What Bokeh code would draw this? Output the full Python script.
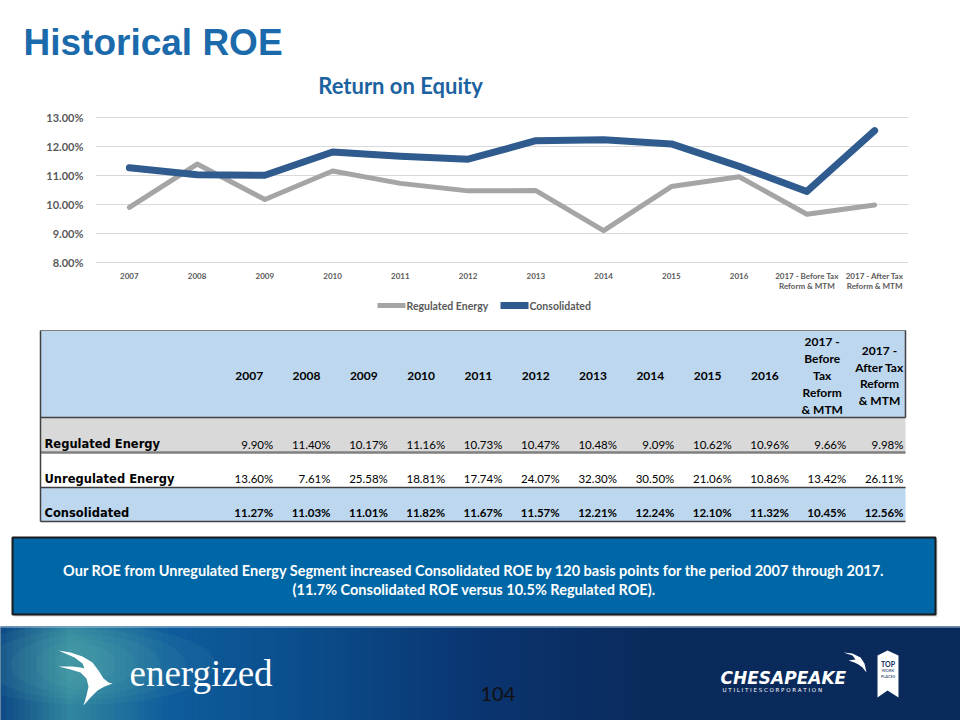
from bokeh.plotting import figure
from bokeh.models import (Range1d, FactorRange, FixedTicker, NumeralTickFormatter, ColumnDataSource)
from bokeh.layouts import column
from bokeh.core.properties import value
from bokeh.embed import file_html
from bokeh.resources import INLINE

# ---------------- data ----------------
categories = ["2007", "2008", "2009", "2010", "2011", "2012", "2013", "2014", "2015", "2016",
              "2017 - Before Tax\nReform & MTM", "2017 - After Tax\nReform & MTM"]
table_headers = ["2007", "2008", "2009", "2010", "2011", "2012", "2013", "2014", "2015", "2016",
                 "2017 -\nBefore\nTax\nReform\n& MTM", "2017 -\nAfter Tax\nReform\n& MTM"]
regulated = [9.90, 11.40, 10.17, 11.16, 10.73, 10.47, 10.48, 9.09, 10.62, 10.96, 9.66, 9.98]
unregulated = [13.60, 7.61, 25.58, 18.81, 17.74, 24.07, 32.30, 30.50, 21.06, 10.86, 13.42, 26.11]
consolidated = [11.27, 11.03, 11.01, 11.82, 11.67, 11.57, 12.21, 12.24, 12.10, 11.32, 10.45, 12.56]
row_names = ["Regulated Energy", "Unregulated Energy", "Consolidated"]
series_names = ["Regulated Energy", "Consolidated"]
y_ticks = [0.08, 0.09, 0.10, 0.11, 0.12, 0.13]

TITLE = "Historical ROE"
CHART_TITLE = "Return on Equity"
NOTE = ["Our ROE from Unregulated Energy Segment increased Consolidated ROE by 120 basis points for the period 2007 through 2017.",
        "(11.7% Consolidated ROE versus 10.5% Regulated ROE)."]
PAGE = "104"

W = 960
REG_COLOR = "#A5A5A5"
CONS_COLOR = "#2F5B8E"


def canvas(top, height, bg="white"):
    p = figure(width=W, height=height, x_range=Range1d(0, W), y_range=Range1d(top + height, top),
               x_axis_location=None, y_axis_location=None, output_backend="svg",
               toolbar_location=None, min_border=0, frame_align=False)
    p.grid.visible = False
    p.outline_line_color = None
    p.background_fill_color = bg
    p.border_fill_color = bg
    return p


# ---------------- header ----------------
pa = canvas(0, 108)
pa.text(x=[23], y=[42], text=[TITLE], text_font=value("Liberation Sans"), text_font_style="bold",
        text_font_size="37px", text_color="#1B6AAB", text_baseline="middle")
pa.text(x=[400], y=[85], text=[CHART_TITLE], text_font=value("Lato"), text_font_style="bold",
        text_font_size="22px", text_color="#1D62A0", text_align="center", text_baseline="middle")

# ---------------- chart ----------------
pb = figure(width=W, height=188, x_range=FactorRange(*categories), y_range=Range1d(0.0795, 0.1305),
            output_backend="svg", toolbar_location=None, frame_align=False,
            min_border_left=95, min_border_right=52, min_border_top=8, min_border_bottom=33)
pb.outline_line_color = None
pb.background_fill_color = "white"
pb.border_fill_color = "white"
pb.xgrid.grid_line_color = None
pb.ygrid.grid_line_color = "#D9D9D9"
pb.ygrid.ticker = FixedTicker(ticks=y_ticks)
pb.yaxis.ticker = FixedTicker(ticks=y_ticks)
pb.yaxis.formatter = NumeralTickFormatter(format="0.00%")
for ax in (pb.xaxis[0], pb.yaxis[0]):
    ax.axis_line_color = None
    ax.major_tick_line_color = None
    ax.minor_tick_line_color = None
    ax.major_label_text_color = "#595959"
    ax.major_label_text_font = "Lato"
    ax.major_label_text_font_style = "bold"
pb.yaxis.major_label_text_font_size = "11px"
pb.yaxis.major_label_standoff = 6
pb.xaxis.major_label_text_font_size = "8px"
pb.xaxis.major_label_standoff = 1
pb.xaxis.major_label_text_line_height = 1.0

src = ColumnDataSource(dict(x=categories, reg=[v / 100 for v in regulated],
                            cons=[v / 100 for v in consolidated]))
pb.line("x", "reg", source=src, line_color=REG_COLOR, line_width=5,
        line_join="round", line_cap="round")
pb.line("x", "cons", source=src, line_color=CONS_COLOR, line_width=7,
        line_join="round", line_cap="round")

# ---------------- legend strip ----------------
pl = canvas(296, 26)
pl.segment(x0=[377, 500], x1=[405, 528], y0=[305, 305], y1=[305, 305],
           line_color=[REG_COLOR, CONS_COLOR], line_width=[5, 7])
pl.text(x=[406, 529], y=[305, 305], text=series_names, text_font=value("Lato"),
        text_font_style="bold", text_font_size="10.5px", text_color="#595959",
        text_baseline="middle")

# ---------------- table ----------------
pc = canvas(322, 304)
T_L, T_R = 40, 905
T_TOP, H_BOT, R1_BOT, R2_BOT, T_BOT = 330, 417, 452, 487, 521
pc.quad(left=[T_L, T_L, T_L, T_L], right=[T_R] * 4,
        top=[T_TOP, H_BOT, R1_BOT, R2_BOT], bottom=[H_BOT, R1_BOT, R2_BOT, T_BOT],
        fill_color=["#BDD7EE", "#D9D9D9", "#FFFFFF", "#BDD7EE"], line_color=None)
pc.segment(x0=[T_L, T_L, T_L, T_L, T_L], x1=[T_R] * 5,
           y0=[T_TOP, H_BOT, R1_BOT, R2_BOT, T_BOT], y1=[T_TOP, H_BOT, R1_BOT, R2_BOT, T_BOT],
           line_color=["#7F7F7F", "#404040", "#7F7F7F", "#404040", "#404040"],
           line_width=[1, 1.5, 2.5, 1.5, 1.5])
pc.segment(x0=[T_L, T_R], x1=[T_L, T_R], y0=[T_TOP, T_TOP], y1=[T_BOT, H_BOT],
           line_color="#404040", line_width=1.5)

col_right = [272.7 + 57.3 * i for i in range(len(table_headers))]
col_center = [c - 24 for c in col_right]
pc.text(x=col_center, y=[375] * len(table_headers), text=table_headers,
        text_font=value("Lato"), text_font_style="bold", text_font_size="12px",
        text_color="#000000", text_align="center", text_baseline="middle", text_line_height=1.12)

row_mid = [443.5, 478, 512]
pc.text(x=[44] * 3, y=row_mid, text=row_names, text_font=value("DejaVu Sans"),
        text_font_style="bold", text_font_size="11.5px", text_color="#000000",
        text_baseline="middle")
for vals, ym, style in ((regulated, row_mid[0], "normal"), (unregulated, row_mid[1], "normal"),
                        (consolidated, row_mid[2], "bold")):
    pc.text(x=col_right, y=[ym] * len(vals), text=[f"{v:.2f}%" for v in vals],
            text_font=value("Lato"), text_font_style=style, text_font_size="11.5px",
            text_color="#000000", text_align="right", text_baseline="middle")

# callout box
pc.quad(left=[14], right=[937], top=[539], bottom=[616], fill_color="#7F7F7F", fill_alpha=0.35,
        line_color=None)
pc.quad(left=[12], right=[935], top=[537], bottom=[614], fill_color="#0067A6",
        line_color="#1A1A1A", line_width=2)
pc.text(x=[473.5, 473.5], y=[570, 589], text=NOTE, text_font=value("Lato"), text_font_style="bold",
        text_font_size="14.5px", text_color="#FFFFFF", text_align="center", text_baseline="middle")

# ---------------- footer ----------------
pd_ = canvas(626, 94, bg="#0A2A5B")
stops = [(0, (14, 74, 134)), (70, (50, 135, 160)), (170, (15, 92, 156)), (300, (11, 78, 140)),
         (480, (10, 53, 112)), (640, (10, 43, 93)), (960, (10, 42, 91))]
xs0, xs1, cols = [], [], []
step = 6
for x in range(0, 960, step):
    for (a, ca), (b, cb) in zip(stops[:-1], stops[1:]):
        if a <= x < b:
            t = (x + step / 2 - a) / (b - a)
            c = tuple(int(ca[k] + (cb[k] - ca[k]) * t) for k in range(3))
            break
    xs0.append(x)
    xs1.append(x + step + 0.5)
    cols.append("#%02x%02x%02x" % c)
pd_.quad(left=xs0, right=xs1, top=[626] * len(xs0), bottom=[720] * len(xs0),
         fill_color=cols, line_color=None)
pd_.ellipse(x=[85] * 5, y=[664] * 5, width=[260, 200, 150, 100, 60], height=[80, 70, 60, 50, 40],
            fill_color="#6CC3BE", fill_alpha=0.07, line_color=None)
pd_.segment(x0=[0], x1=[960], y0=[626.5], y1=[626.5], line_color="#9DC3E6", line_width=1)

# bird logo
bird_x = [58, 70, 82, 92, 98, 103, 108, 112, 104, 97, 90, 83, 86, 88, 86, 80, 70, 58, 72, 80, 84, 82, 74]
bird_y = [650, 652, 656, 662, 670, 678, 682, 683, 686, 690, 697, 705, 695, 686, 678, 672, 669, 666, 666, 667, 668, 663, 657]
pd_.patch(x=bird_x, y=bird_y, fill_color="white", line_color=None)
pd_.text(x=[129], y=[673], text=["energized"], text_font=value("Liberation Serif"),
         text_font_size="37px", text_color="white", text_baseline="middle")
pd_.text(x=[480], y=[693.5], text=[PAGE], text_font=value("Lato"), text_font_size="20px",
         text_color="#111111", text_baseline="middle")
pd_.text(x=[720], y=[677], text=["CHESAPEAKE"], text_font=value("DejaVu Sans"),
         text_font_style="bold italic", text_font_size="17px", text_color="white",
         text_baseline="middle")
pd_.text(x=[722], y=[689], text=["U T I L I T I E S   C O R P O R A T I O N"],
         text_font=value("DejaVu Sans"), text_font_size="5.5px", text_color="white",
         text_baseline="middle")
pd_.patch(x=[843, 852, 860, 864, 866, 862, 858, 854, 848, 855, 852],
          y=[652, 653, 657, 663, 672, 667, 664, 662, 660, 659, 655], fill_color="white", line_color=None)
pd_.patch(x=[877, 887, 898, 898, 887, 877], y=[655, 650, 655, 697, 690, 697],
          fill_color="white", line_color=None)
pd_.text(x=[887.5], y=[663], text=["TOP"], text_font=value("Lato"), text_font_style="bold",
         text_font_size="7px", text_color="#0A2A5B", text_align="center", text_baseline="middle")
pd_.text(x=[887.5], y=[673], text=["WORK\nPLACES"], text_font=value("Lato"),
         text_font_size="4px", text_color="#0A2A5B", text_align="center", text_baseline="middle")

layout = column(pa, pb, pl, pc, pd_, spacing=0)
open("out.html", "w").write(file_html(layout, INLINE))
